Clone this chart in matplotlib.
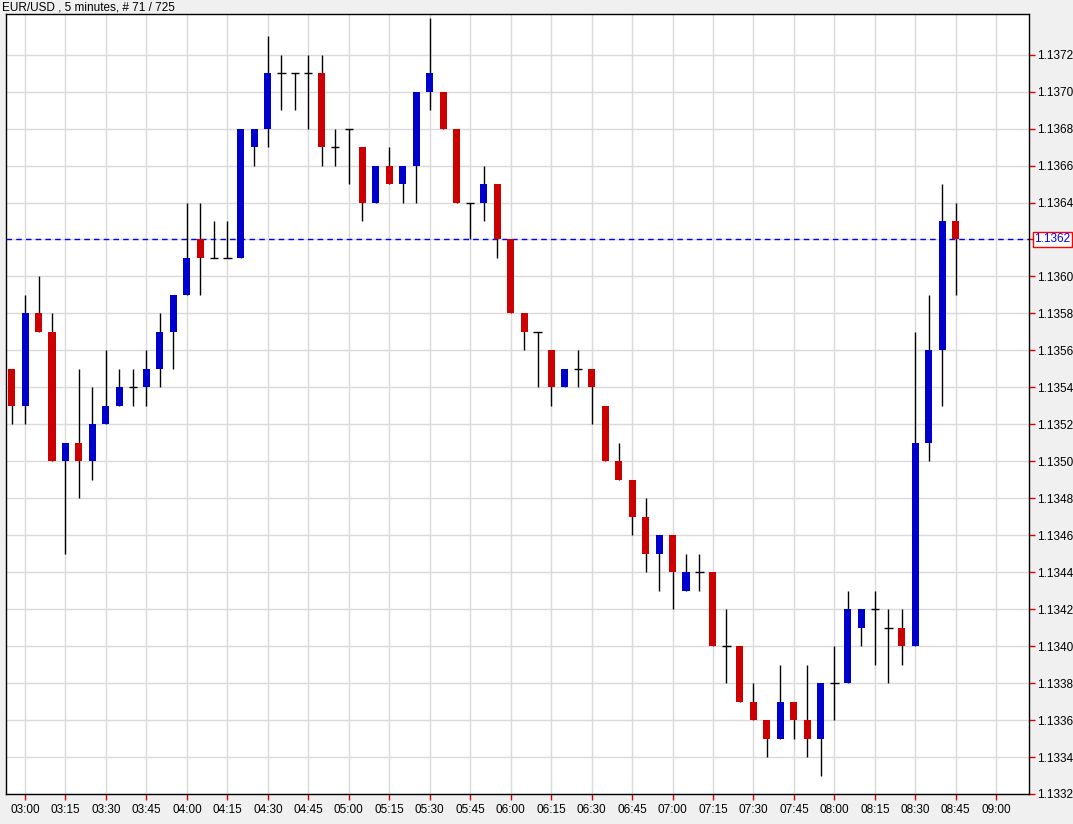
import numpy as np
import matplotlib
matplotlib.use("Agg")
import matplotlib.pyplot as plt

plt.rcParams['font.family'] = ['Liberation Sans', 'DejaVu Sans']

# 5-minute EUR/USD candles, 02:55 .. 08:45
times = ['02:55', '03:00', '03:05', '03:10', '03:15', '03:20', '03:25', '03:30', '03:35', '03:40',
         '03:45', '03:50', '03:55', '04:00', '04:05', '04:10', '04:15', '04:20', '04:25', '04:30',
         '04:35', '04:40', '04:45', '04:50', '04:55', '05:00', '05:05', '05:10', '05:15', '05:20',
         '05:25', '05:30', '05:35', '05:40', '05:45', '05:50', '05:55', '06:00', '06:05', '06:10',
         '06:15', '06:20', '06:25', '06:30', '06:35', '06:40', '06:45', '06:50', '06:55', '07:00',
         '07:05', '07:10', '07:15', '07:20', '07:25', '07:30', '07:35', '07:40', '07:45', '07:50',
         '07:55', '08:00', '08:05', '08:10', '08:15', '08:20', '08:25', '08:30', '08:35', '08:40',
         '08:45']
opens = [1.1355, 1.1353, 1.1358, 1.1357, 1.1350, 1.1351, 1.1350, 1.1352, 1.1353, 1.1354,
         1.1354, 1.1355, 1.1357, 1.1359, 1.1362, 1.1361, 1.1361, 1.1361, 1.1367, 1.1368,
         1.1371, 1.1371, 1.1371, 1.1371, 1.1367, 1.1368, 1.1367, 1.1364, 1.1366, 1.1365,
         1.1366, 1.1370, 1.1370, 1.1368, 1.1364, 1.1364, 1.1365, 1.1362, 1.1358, 1.1357,
         1.1356, 1.1354, 1.1355, 1.1355, 1.1353, 1.1350, 1.1349, 1.1347, 1.1345, 1.1346,
         1.1343, 1.1344, 1.1344, 1.1340, 1.1340, 1.1337, 1.1336, 1.1335, 1.1337, 1.1336,
         1.1335, 1.1338, 1.1338, 1.1341, 1.1342, 1.1341, 1.1341, 1.1340, 1.1351, 1.1356,
         1.1363]
highs = [1.1355, 1.1359, 1.1360, 1.1358, 1.1351, 1.1355, 1.1354, 1.1356, 1.1355, 1.1355,
         1.1356, 1.1358, 1.1359, 1.1364, 1.1364, 1.1363, 1.1363, 1.1368, 1.1368, 1.1373,
         1.1372, 1.1371, 1.1372, 1.1372, 1.1368, 1.1368, 1.1367, 1.1366, 1.1367, 1.1366,
         1.1370, 1.1374, 1.1370, 1.1368, 1.1364, 1.1366, 1.1365, 1.1362, 1.1358, 1.1357,
         1.1356, 1.1355, 1.1356, 1.1355, 1.1353, 1.1351, 1.1349, 1.1348, 1.1346, 1.1346,
         1.1345, 1.1345, 1.1344, 1.1342, 1.1340, 1.1338, 1.1336, 1.1339, 1.1337, 1.1339,
         1.1338, 1.1340, 1.1343, 1.1342, 1.1343, 1.1342, 1.1342, 1.1357, 1.1359, 1.1365,
         1.1364]
lows = [1.1352, 1.1352, 1.1357, 1.1350, 1.1345, 1.1348, 1.1349, 1.1352, 1.1353, 1.1353,
        1.1353, 1.1354, 1.1355, 1.1359, 1.1359, 1.1361, 1.1361, 1.1361, 1.1366, 1.1367,
        1.1369, 1.1369, 1.1368, 1.1366, 1.1366, 1.1365, 1.1363, 1.1364, 1.1365, 1.1364,
        1.1364, 1.1369, 1.1368, 1.1364, 1.1362, 1.1363, 1.1361, 1.1358, 1.1356, 1.1354,
        1.1353, 1.1354, 1.1354, 1.1352, 1.1350, 1.1349, 1.1346, 1.1344, 1.1343, 1.1342,
        1.1343, 1.1343, 1.1340, 1.1338, 1.1337, 1.1336, 1.1334, 1.1335, 1.1335, 1.1334,
        1.1333, 1.1336, 1.1338, 1.1340, 1.1339, 1.1338, 1.1339, 1.1340, 1.1350, 1.1353,
        1.1359]
closes = [1.1353, 1.1358, 1.1357, 1.1350, 1.1351, 1.1350, 1.1352, 1.1353, 1.1354, 1.1354,
          1.1355, 1.1357, 1.1359, 1.1361, 1.1361, 1.1361, 1.1361, 1.1368, 1.1368, 1.1371,
          1.1371, 1.1371, 1.1371, 1.1367, 1.1367, 1.1368, 1.1364, 1.1366, 1.1365, 1.1366,
          1.1370, 1.1371, 1.1368, 1.1364, 1.1364, 1.1365, 1.1362, 1.1358, 1.1357, 1.1357,
          1.1354, 1.1355, 1.1355, 1.1354, 1.1350, 1.1349, 1.1347, 1.1345, 1.1346, 1.1344,
          1.1344, 1.1344, 1.1340, 1.1340, 1.1337, 1.1336, 1.1335, 1.1337, 1.1336, 1.1335,
          1.1338, 1.1338, 1.1342, 1.1342, 1.1342, 1.1341, 1.1340, 1.1351, 1.1356, 1.1363,
          1.1362]

tick_labels = ['03:00', '03:15', '03:30', '03:45', '04:00', '04:15', '04:30', '04:45', '05:00',
               '05:15', '05:30', '05:45', '06:00', '06:15', '06:30', '06:45', '07:00', '07:15',
               '07:30', '07:45', '08:00', '08:15', '08:30', '08:45', '09:00']
price_ticks = [1.1332, 1.1334, 1.1336, 1.1338, 1.1340, 1.1342, 1.1344, 1.1346, 1.1348, 1.1350,
               1.1352, 1.1354, 1.1356, 1.1358, 1.1360, 1.1362, 1.1364, 1.1366, 1.1368, 1.1370,
               1.1372]

o = np.array(opens)
h = np.array(highs)
l = np.array(lows)
c = np.array(closes)
x = np.arange(len(times))

up_col = '#0000CC'
dn_col = '#CC0000'

fig = plt.figure(figsize=(10.73, 8.24), dpi=100, facecolor='#F0F0F0')
ax = fig.add_axes([6 / 1073, 1 - 794 / 824, 1022.9 / 1073, 780 / 824])
ax.set_facecolor('white')

# wicks
ax.vlines(x, l, h, color='black', linewidth=1, zorder=2)

# bodies
w = 0.52
up = c > o
dn = c < o
flat = c == o
ax.bar(x[up], (c - o)[up], bottom=o[up], width=w, color=up_col, linewidth=0, zorder=3)
ax.bar(x[dn], (o - c)[dn], bottom=c[dn], width=w, color=dn_col, linewidth=0, zorder=3)
ax.hlines(c[flat], x[flat] - w / 2 - 0.05, x[flat] + w / 2 + 0.05, color='black', linewidth=1, zorder=3)

# last price line
last = closes[-1]
ax.axhline(last, color='#0000FF', linewidth=1, linestyle=(0, (4, 3)), zorder=1)

ax.set_xlim(-0.41, 75.42)
ax.set_ylim(1.1332, 1.13742)

ax.set_xticks(np.arange(1, 1 + 3 * len(tick_labels), 3))
ax.set_xticklabels(tick_labels)
ax.yaxis.tick_right()
ax.set_yticks(price_ticks)
# the tag below takes the place of the label at the last price
ax.set_yticklabels(['' if abs(p - last) < 1e-9 else '%.4f' % p for p in price_ticks])
ax.tick_params(axis='both', direction='out', length=4, width=1, colors='#DD0000',
               labelcolor='black', labelsize=8.5)
ax.tick_params(axis='y', pad=2)
ax.tick_params(axis='x', pad=3)

ax.grid(True, color='#DADADA', linewidth=1, zorder=0)
ax.set_axisbelow(True)
for s in ax.spines.values():
    s.set_color('black')
    s.set_linewidth(1)

# current price tag
ax.text(1.0055, last, '%.4f' % last, transform=ax.get_yaxis_transform(), va='center', ha='left',
        fontsize=8.5, color='#0000FF',
        bbox=dict(boxstyle='square,pad=0.15', facecolor='white', edgecolor='#FF0000', linewidth=1))

fig.text(2 / 1073, 1 - 7 / 824, 'EUR/USD , 5 minutes, # 71 / 725', fontsize=8.5, va='center', ha='left')

plt.savefig('out.png', dpi=100, facecolor=fig.get_facecolor())
